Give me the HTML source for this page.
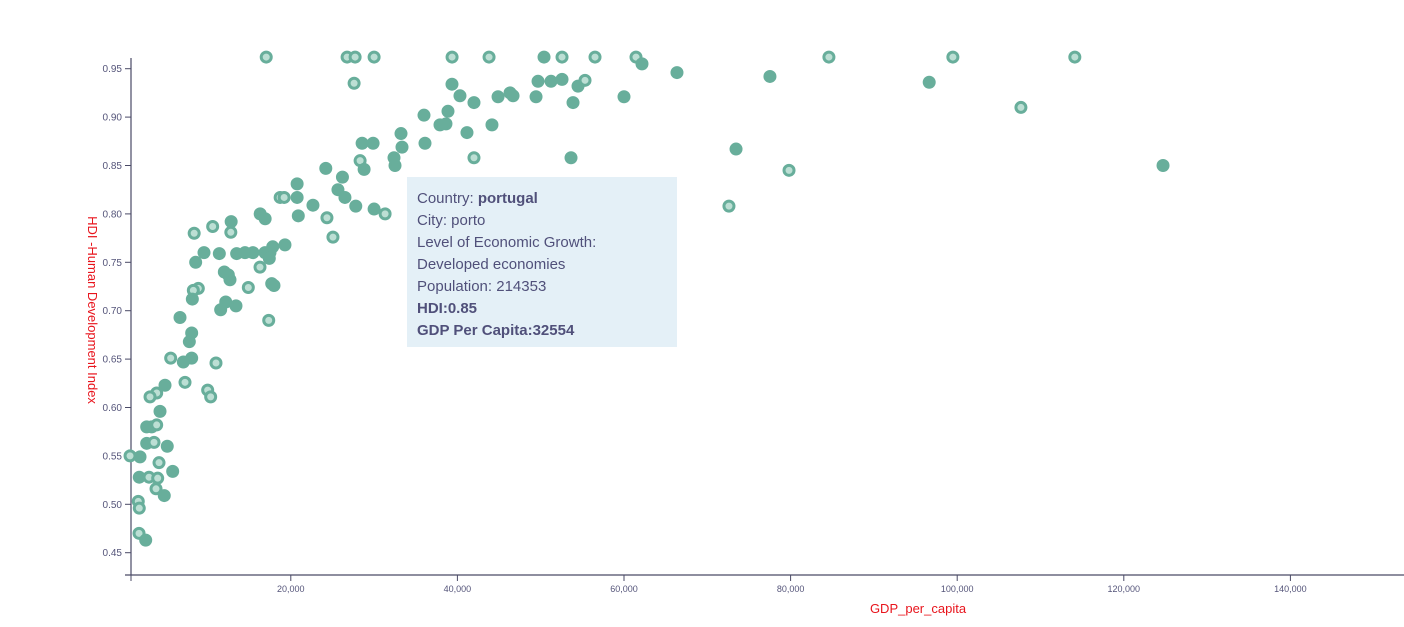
<!DOCTYPE html>
<html><head><meta charset="utf-8"><style>
html,body{margin:0;padding:0;background:#fff;}
svg{display:block;font-family:"Liberation Sans",sans-serif;}
</style></head><body>
<svg id="chart" width="1404" height="627" viewBox="0 0 1404 627" xmlns="http://www.w3.org/2000/svg">
<g id="yaxis"></g>
<g id="xaxis"></g>
<g id="dots"></g>
<text x="918" y="613" text-anchor="middle" font-size="13" fill="#e8141c">GDP_per_capita</text>
<text transform="translate(88,310) rotate(90)" text-anchor="middle" font-size="13" fill="#e8141c">HDI -Human Development Index</text>
<g>
<rect x="407" y="177" width="270" height="170" fill="#e4f0f7"/>
<g font-size="15" fill="#50507a">
<text x="417" y="203">Country: <tspan font-weight="bold">portugal</tspan></text>
<text x="417" y="225">City: porto</text>
<text x="417" y="247">Level of Economic Growth:</text>
<text x="417" y="269">Developed economies</text>
<text x="417" y="291">Population: 214353</text>
<text x="417" y="313" font-weight="bold">HDI:0.85</text>
<text x="417" y="335" font-weight="bold">GDP Per Capita:32554</text>
</g></g>
</svg>
<script>
const gdp = [17050,26760,27720,30000,39360,43800,50400,52560,56520,61440,84600,99480,114120,
27600,62160,66360,77520,96640,107650,124710,73450,79810,72600,
24200,26200,25660,26500,27800,22660,24340,25060,20760,20760,20900,18720,19200,16320,16920,12840,12800,10620,8400,
28560,29880,28320,28800,30000,31320,
33230,33350,32390,32510,35990,36110,37910,38630,38870,39350,40310,41150,41990,41990,44150,44880,46320,46680,49440,49680,51240,52560,54480,53880,53640,55320,60000,
9580,11420,8580,13500,14500,15460,16900,17500,19300,17830,16300,17420,12020,12500,12700,14900,17710,17980,8900,8300,8180,12190,13420,11580,6700,17350,8100,7820,5580,7100,8100,11020,
4900,3900,3100,7300,10020,10380,4300,2700,3300,3900,2700,3580,5170,700,1900,4180,5820,1810,2980,4020,3820,4810,1690,1810,1780,2580];
const hdi = [0.962,0.962,0.962,0.962,0.962,0.962,0.962,0.962,0.962,0.962,0.962,0.962,0.962,
0.935,0.955,0.946,0.942,0.936,0.910,0.850,0.867,0.845,0.808,
0.847,0.838,0.825,0.817,0.808,0.809,0.796,0.776,0.831,0.817,0.798,0.817,0.817,0.800,0.795,0.792,0.781,0.787,0.780,
0.873,0.873,0.855,0.846,0.805,0.800,
0.883,0.869,0.858,0.850,0.902,0.873,0.892,0.893,0.906,0.934,0.922,0.884,0.915,0.858,0.892,0.921,0.925,0.922,0.921,0.937,0.937,0.939,0.932,0.915,0.858,0.938,0.921,
0.760,0.759,0.750,0.759,0.760,0.760,0.760,0.760,0.768,0.766,0.745,0.754,0.740,0.737,0.732,0.724,0.728,0.726,0.723,0.721,0.712,0.709,0.705,0.701,0.693,0.690,0.677,0.668,0.651,0.647,0.651,0.646,
0.623,0.615,0.611,0.626,0.618,0.611,0.596,0.580,0.580,0.582,0.563,0.564,0.560,0.550,0.549,0.543,0.534,0.528,0.528,0.527,0.516,0.509,0.503,0.496,0.470,0.463];
const kind = ['r','r','r','r','r','r','f','r','r','r','r','r','r',
'r','f','f','f','f','r','f','f','r','r',
'f','f','f','f','f','f','r','r','f','f','f','r','r','f','f','f','r','r','r',
'f','f','r','f','f','r',
'f','f','f','f','f','f','f','f','f','f','f','f','f','r','f','f','f','f','f','f','f','f','f','f','f','r','f',
'f','f','f','f','f','f','f','f','f','f','r','f','f','f','f','r','r','f','r','r','f','f','f','f','f','r','f','f','r','f','f','r',
'f','r','r','r','r','r','f','f','f','r','f','r','f','r','f','r','f','f','r','r','r','f','r','r','r','f'];
const yTicks = [0.45,0.50,0.55,0.60,0.65,0.70,0.75,0.80,0.85,0.90,0.95];
const xTicks = [20000,40000,60000,80000,100000,120000,140000];

const NS='http://www.w3.org/2000/svg';
function X(v){return 124.2+v*0.00833;}
function Y(v){return 552.7-(v-0.45)*968;}
function mk(t,a,p){const e=document.createElementNS(NS,t);for(const k in a)e.setAttribute(k,a[k]);p.appendChild(e);return e;}
const axc='#4a4a66';
const ya=document.getElementById('yaxis');
const yl=mk('line',{x1:131,y1:58,x2:131,y2:575,stroke:axc,'stroke-width':1.2},ya);


yTicks.forEach(v=>{
  const t=mk('line',{x1:125,x2:131,y1:Y(v),y2:Y(v),stroke:axc},ya);
  
  
  const l=mk('text',{x:122,y:Y(v)+3.5,'text-anchor':'end','font-size':10,fill:'#55557a'},ya);
  l.textContent=v.toFixed(2);
  
  
});
const xa=document.getElementById('xaxis');
const xl=mk('line',{x1:125,y1:575,x2:1404,y2:575,stroke:axc,'stroke-width':1.2},xa);


mk('line',{x1:131,x2:131,y1:575,y2:581,stroke:axc},xa);
xTicks.forEach(v=>{
  const t=mk('line',{x1:X(v),x2:X(v),y1:575,y2:581,stroke:axc},xa);
  
  
  const l=mk('text',{x:X(v),y:592,'text-anchor':'middle','font-size':9,fill:'#55557a'},xa);
  l.textContent=v.toLocaleString('en-US');
  
  
});
const dg=document.getElementById('dots');
for(let i=0;i<gdp.length;i++){
  const ring=kind[i]==='r';
  const c=mk('circle',{cx:X(gdp[i]),cy:Y(hdi[i]),r:5,fill:ring?'#bcdfd4':'#68ae9b',stroke:'#68ae9b','stroke-width':3},dg);
  
  
}
</script>
</body></html>
